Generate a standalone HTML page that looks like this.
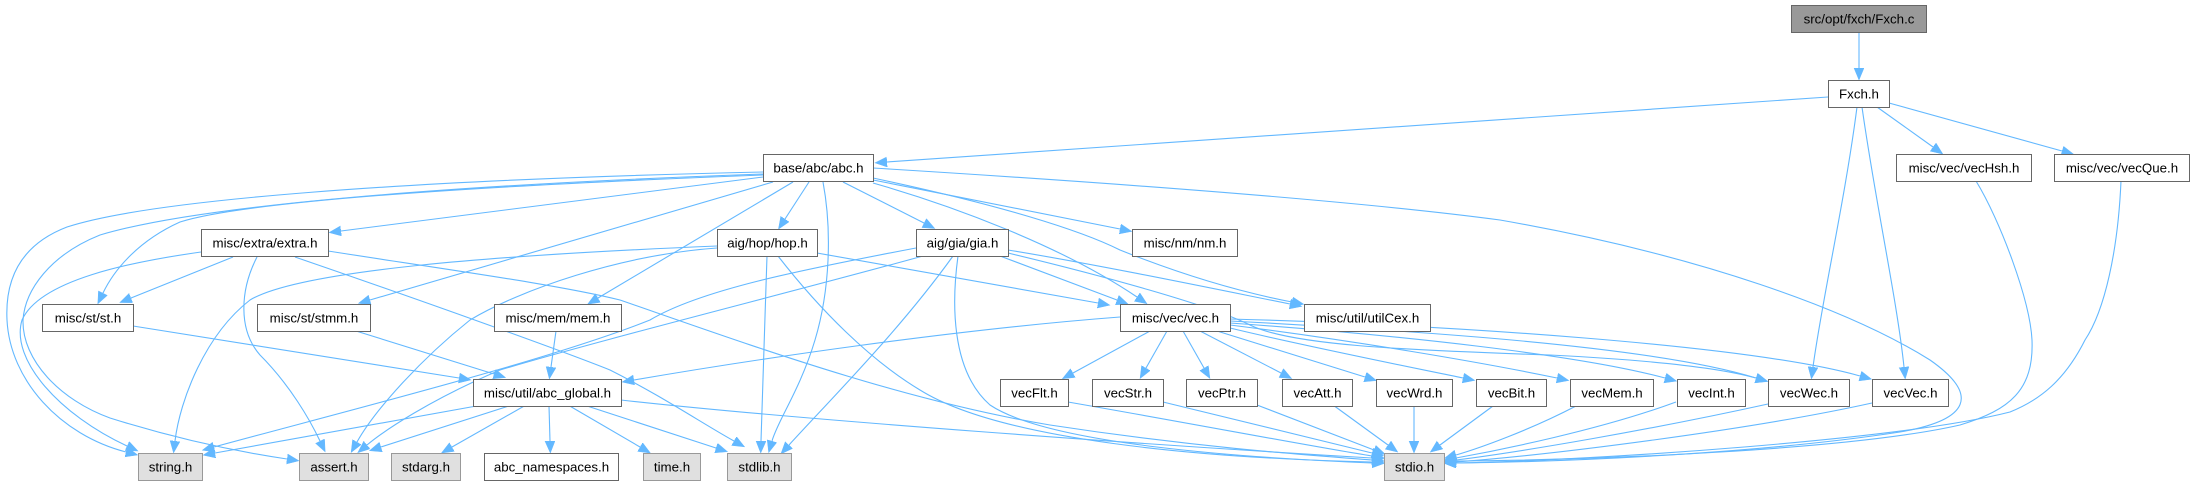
<!DOCTYPE html>
<html><head><meta charset="utf-8"><style>
html,body{margin:0;padding:0;background:#fff;}
svg{display:block;}
text{font-family:"Liberation Sans",Arial,sans-serif;font-size:13.3px;fill:#000;text-anchor:middle;}
.e{fill:none;stroke:#63b8ff;stroke-width:1.1;}
.n{fill:#fff;stroke:#666;stroke-width:1;}
.s{fill:#e0e0e0;stroke:#999;stroke-width:1;}
.r{fill:#999;stroke:#666;stroke-width:1;}
</style></head><body>
<svg width="2195" height="485" viewBox="0 0 2195 485" xmlns="http://www.w3.org/2000/svg">
<defs>
<marker id="a" markerUnits="userSpaceOnUse" markerWidth="13" markerHeight="11" refX="0" refY="5" orient="auto">
<path d="M0,0 L12,5 L0,10 z" fill="#63b8ff" stroke="#63b8ff" stroke-width="0.5"/>
</marker>
</defs>
<g marker-end="url(#a)">
<path class="e" d="M1859,32 L1859,68"/>
<path class="e" d="M1828,97 L887,162"/>
<path class="e" d="M1877,107 L1933,147"/>
<path class="e" d="M1889,103 L2062,151"/>
<path class="e" d="M1857,107 C1845,200 1822,300 1813,367"/>
<path class="e" d="M1862,107 C1875,200 1897,300 1904,367"/>
<path class="e" d="M1976,181 C2000,220 2030,300 2032,340 C2034,390 2010,410 1960,425 C1850,450 1600,460 1456,461"/>
<path class="e" d="M2121,181 C2118,250 2105,310 2085,340 C2065,380 2040,400 2010,412 C1900,440 1600,460 1456,463"/>
<path class="e" d="M873,168 C1100,182 1350,200 1500,220 C1700,255 1850,310 1930,360 C1980,395 1970,420 1900,432 C1750,455 1550,462 1456,463"/>
<path class="e" d="M873,180 L1120,229"/>
<path class="e" d="M843,182 L924,223"/>
<path class="e" d="M809,182 L785,219"/>
<path class="e" d="M823,182 C832,230 830,290 815,340 C800,390 778,420 772,441"/>
<path class="e" d="M873,183 C950,205 1060,245 1137,297"/>
<path class="e" d="M1000,256 L1117,300"/>
<path class="e" d="M817,253 L1098,303"/>
<path class="e" d="M873,178 C1000,205 1080,230 1120,250 C1170,270 1230,290 1292,302"/>
<path class="e" d="M1008,250 C1100,265 1220,290 1290,304"/>
<path class="e" d="M1008,253 C1100,275 1210,305 1250,325 C1290,345 1400,350 1550,355 C1650,360 1720,368 1756,378"/>
<path class="e" d="M793,182 L598,298"/>
<path class="e" d="M773,182 L370,300"/>
<path class="e" d="M763,177 L341,231"/>
<path class="e" d="M763,175 C500,185 250,200 180,222 C140,240 115,268 103,293"/>
<path class="e" d="M763,172 C400,180 150,200 67,227 C20,245 5,280 7,320 C10,380 60,435 126,452"/>
<path class="e" d="M763,174 C450,185 200,205 100,235 C50,255 25,290 23,320 C22,360 60,400 110,418 C180,440 240,452 287,459"/>
<path class="e" d="M201,252 C130,262 40,280 22,320 C10,360 60,415 127,446"/>
<path class="e" d="M233,257 L131,298"/>
<path class="e" d="M257,257 C240,290 238,330 260,355 C290,385 310,420 320,441"/>
<path class="e" d="M295,257 C420,300 560,350 610,370 C660,395 705,425 734,441"/>
<path class="e" d="M328,251 C450,270 560,285 620,300 C750,345 900,400 1050,425 C1200,448 1320,456 1372,460"/>
<path class="e" d="M133,326 L459,378"/>
<path class="e" d="M356,331 L494,374"/>
<path class="e" d="M556,331 L551,367"/>
<path class="e" d="M1120,317 C950,330 750,360 634,380"/>
<path class="e" d="M717,246 C500,255 300,270 250,300 C205,335 180,400 175,441"/>
<path class="e" d="M717,248 C620,255 520,290 470,320 C420,360 375,410 357,442"/>
<path class="e" d="M916,248 C800,270 700,290 650,320 C550,360 350,410 214,447"/>
<path class="e" d="M923,256 C800,290 600,340 500,370 C430,400 385,430 367,445"/>
<path class="e" d="M767,256 C765,320 762,400 761,441"/>
<path class="e" d="M778,256 C820,310 870,360 920,390 C1000,440 1200,458 1372,462"/>
<path class="e" d="M953,256 C900,330 830,400 789,445"/>
<path class="e" d="M958,256 C952,300 950,370 990,405 C1050,445 1250,458 1372,463"/>
<path class="e" d="M482,405 L215,453"/>
<path class="e" d="M512,405 L381,447"/>
<path class="e" d="M526,405 L452,447"/>
<path class="e" d="M549,406 L550,441"/>
<path class="e" d="M568,405 L640,447"/>
<path class="e" d="M584,405 L716,448"/>
<path class="e" d="M621,400 C800,420 1150,445 1372,458"/>
<path class="e" d="M1150,331 L1073,373"/>
<path class="e" d="M1167,331 L1146,368"/>
<path class="e" d="M1183,331 L1204,368"/>
<path class="e" d="M1200,331 L1281,373"/>
<path class="e" d="M1217,331 L1365,377"/>
<path class="e" d="M1230,328 C1300,345 1400,365 1463,378"/>
<path class="e" d="M1230,325 C1350,340 1480,362 1557,378"/>
<path class="e" d="M1230,323 C1400,335 1580,355 1665,378"/>
<path class="e" d="M1230,321 C1400,330 1650,345 1756,378"/>
<path class="e" d="M1230,319 C1450,325 1750,345 1860,376"/>
<path class="e" d="M1068,402 C1200,425 1320,448 1372,456"/>
<path class="e" d="M1163,402 L1372,453"/>
<path class="e" d="M1257,405 L1374,450"/>
<path class="e" d="M1333,405 L1388,445"/>
<path class="e" d="M1414,406 L1414,441"/>
<path class="e" d="M1493,406 L1440,445"/>
<path class="e" d="M1576,406 C1530,430 1480,448 1456,455"/>
<path class="e" d="M1676,402 C1600,430 1500,450 1456,458"/>
<path class="e" d="M1768,404 C1650,430 1520,452 1456,460"/>
<path class="e" d="M1872,403 C1750,430 1550,455 1456,462"/>
</g>
<g>
<rect class="r" x="1791.5" y="5.5" width="135" height="27"/><text x="1859" y="23.5">src/opt/fxch/Fxch.c</text>
<rect class="n" x="1828.5" y="80.5" width="61" height="27"/><text x="1859" y="98.5">Fxch.h</text>
<rect class="n" x="763.5" y="154.5" width="110" height="27"/><text x="818.5" y="172.5">base/abc/abc.h</text>
<rect class="n" x="1896.5" y="154.5" width="135" height="27"/><text x="1964" y="172.5">misc/vec/vecHsh.h</text>
<rect class="n" x="2054.5" y="154.5" width="135" height="27"/><text x="2122" y="172.5">misc/vec/vecQue.h</text>
<rect class="n" x="201.5" y="229.5" width="127" height="27"/><text x="265" y="247.5">misc/extra/extra.h</text>
<rect class="n" x="717.5" y="229.5" width="100" height="27"/><text x="767.5" y="247.5">aig/hop/hop.h</text>
<rect class="n" x="916.5" y="229.5" width="92" height="27"/><text x="962.5" y="247.5">aig/gia/gia.h</text>
<rect class="n" x="1132.5" y="229.5" width="105" height="27"/><text x="1185" y="247.5">misc/nm/nm.h</text>
<rect class="n" x="42.5" y="304.5" width="91" height="27"/><text x="88" y="322.5">misc/st/st.h</text>
<rect class="n" x="257.5" y="304.5" width="113" height="27"/><text x="314" y="322.5">misc/st/stmm.h</text>
<rect class="n" x="494.5" y="304.5" width="127" height="27"/><text x="558" y="322.5">misc/mem/mem.h</text>
<rect class="n" x="1120.5" y="304.5" width="110" height="27"/><text x="1175.5" y="322.5">misc/vec/vec.h</text>
<rect class="n" x="1304.5" y="304.5" width="126" height="27"/><text x="1367.5" y="322.5">misc/util/utilCex.h</text>
<rect class="n" x="473.5" y="379.5" width="148" height="27"/><text x="547.5" y="397.5">misc/util/abc_global.h</text>
<rect class="n" x="1000.5" y="379.5" width="68" height="27"/><text x="1034.5" y="397.5">vecFlt.h</text>
<rect class="n" x="1092.5" y="379.5" width="71" height="27"/><text x="1128" y="397.5">vecStr.h</text>
<rect class="n" x="1186.5" y="379.5" width="71" height="27"/><text x="1222" y="397.5">vecPtr.h</text>
<rect class="n" x="1282.5" y="379.5" width="70" height="27"/><text x="1317.5" y="397.5">vecAtt.h</text>
<rect class="n" x="1376.5" y="379.5" width="76" height="27"/><text x="1414.5" y="397.5">vecWrd.h</text>
<rect class="n" x="1476.5" y="379.5" width="70" height="27"/><text x="1511.5" y="397.5">vecBit.h</text>
<rect class="n" x="1570.5" y="379.5" width="83" height="27"/><text x="1612" y="397.5">vecMem.h</text>
<rect class="n" x="1677.5" y="379.5" width="68" height="27"/><text x="1711.5" y="397.5">vecInt.h</text>
<rect class="n" x="1768.5" y="379.5" width="81" height="27"/><text x="1809" y="397.5">vecWec.h</text>
<rect class="n" x="1872.5" y="379.5" width="76" height="27"/><text x="1910.5" y="397.5">vecVec.h</text>
<rect class="s" x="138.5" y="453.5" width="64" height="27"/><text x="170.5" y="471.5">string.h</text>
<rect class="s" x="299.5" y="453.5" width="69" height="27"/><text x="334" y="471.5">assert.h</text>
<rect class="s" x="391.5" y="453.5" width="69" height="27"/><text x="426" y="471.5">stdarg.h</text>
<rect class="n" x="484.5" y="453.5" width="134" height="27"/><text x="551.5" y="471.5">abc_namespaces.h</text>
<rect class="s" x="643.5" y="453.5" width="57" height="27"/><text x="672" y="471.5">time.h</text>
<rect class="s" x="727.5" y="453.5" width="64" height="27"/><text x="759.5" y="471.5">stdlib.h</text>
<rect class="s" x="1384.5" y="453.5" width="60" height="27"/><text x="1414.5" y="471.5">stdio.h</text>
</g>
</svg>
</body></html>
